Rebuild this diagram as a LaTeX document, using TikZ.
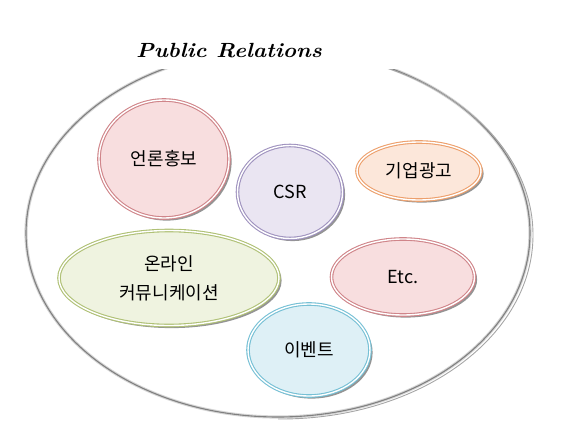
\documentclass[tikz,border=0pt]{standalone}
\usepackage{fontspec}
\usepackage{xcolor}
\usepackage{tikz}
\usetikzlibrary{shapes.geometric,shadows}
\newfontfamily\krfont{Noto Sans CJK KR}
\definecolor{press_fill}{HTML}{F8DEDF}
\definecolor{press_line}{HTML}{D0858A}
\definecolor{csr_fill}{HTML}{EAE5F2}
\definecolor{csr_line}{HTML}{A093BF}
\definecolor{ads_fill}{HTML}{FCE7DA}
\definecolor{ads_line}{HTML}{EDA06C}
\definecolor{online_fill}{HTML}{EFF3E0}
\definecolor{online_line}{HTML}{B0C176}
\definecolor{event_fill}{HTML}{DEF0F6}
\definecolor{event_line}{HTML}{76C0D5}

\begin{document}
\begin{tikzpicture}[
                x=1pt,
                y=-1pt,
                line cap=round,
                line join=round,
                bubble/.style={
                    ellipse,
                    inner sep=0pt,
                    double=white,
                    double distance=1.4pt,
                    line width=1.1pt,
                    drop shadow={shadow xshift=2.6pt, shadow yshift=-2.6pt, opacity=0.7, fill=black!60},
                    font=\krfont\fontsize{18}{29}\selectfont,
                    align=center,
                },
            ]
            \useasboundingbox (0,0) rectangle (574,434);

            % Outer ring, cut open under the title
            \begin{scope}
                \clip (0,69) rectangle (574,434);
                \draw[line width=3.2pt, black!16] (278,233) ellipse [x radius=252, y radius=184];
                \draw[line width=1.1pt, black!50] (278,233) ellipse [x radius=252, y radius=184];
                \clip (278,0) rectangle (574,434);
                \draw[line width=0.9pt, black!35] (281,235) ellipse [x radius=252, y radius=184];
            \end{scope}

            % Title
            \node[font=\fontsize{20.5}{24}\selectfont\bfseries\itshape] (title) at (229,51) {\scalebox{1.1}[1]{Public Relations}};

            % Bubbles
            \node[bubble, draw=press_line, fill=press_fill, minimum width=130, minimum height=118] (press) at (164,159) {언론홍보};
            \node[bubble, draw=csr_line, fill=csr_fill, minimum width=105, minimum height=93] (csr) at (290,192) {CSR};
            \node[bubble, draw=ads_line, fill=ads_fill, minimum width=124, minimum height=58] (ads) at (419,171) {기업광고};
            \node[bubble, draw=online_line, fill=online_fill, minimum width=220, minimum height=95] (online) at (169,278) {온라인\\커뮤니케이션};
            \node[bubble, draw=press_line, fill=press_fill, minimum width=143, minimum height=76] (etc) at (403,277) {Etc.};
            \node[bubble, draw=event_line, fill=event_fill, minimum width=122, minimum height=92] (event) at (309,350) {이벤트};
        \end{tikzpicture}
\end{document}
